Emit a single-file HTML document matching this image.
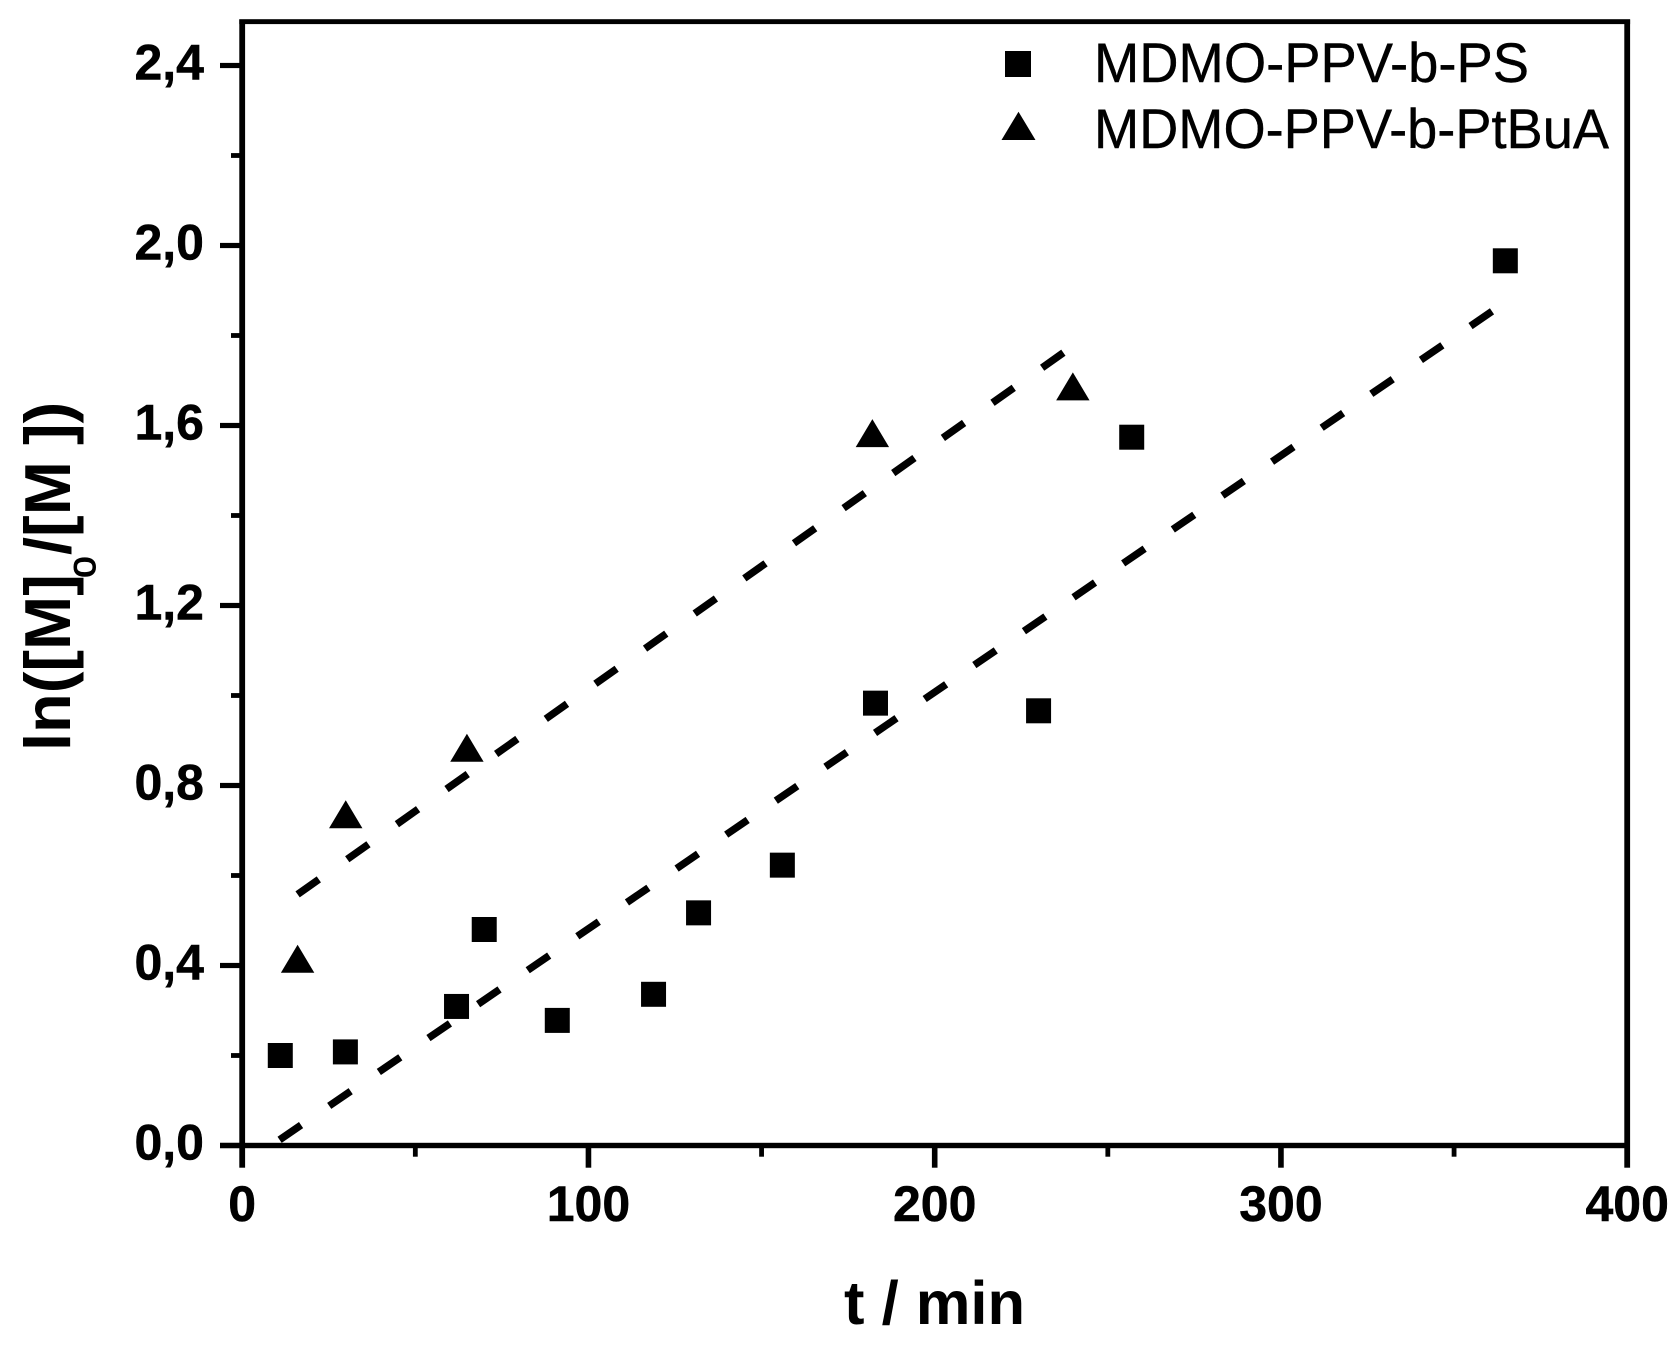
<!DOCTYPE html>
<html lang="en">
<head>
<meta charset="utf-8">
<title>Kinetics plot</title>
<style>
html,body{margin:0;padding:0;background:#fff;}
svg{display:block;}
text{font-family:"Liberation Sans",sans-serif;fill:#000;}
.tick-label{font-weight:700;font-size:50px;stroke:#000;stroke-width:0.5px;}
.title{font-weight:700;}
</style>
</head>
<body>
<svg id="chart" xmlns="http://www.w3.org/2000/svg" width="1679" height="1346" viewBox="0 0 1679 1346">
<rect x="0" y="0" width="1679" height="1346" fill="#fff"/>
<g id="series"></g>
<g id="axes"></g>
<text class="title" x="844" y="1324" font-size="61.5">t / min</text>
<g class="title">
  <text class="title" font-size="65" transform="translate(70 751) rotate(-90)">ln([M]</text>
  <text font-size="39" font-weight="400" stroke="#000" stroke-width="1" text-anchor="middle" transform="translate(95 567) rotate(-90)">o</text>
  <text class="title" font-size="65" transform="translate(70 555) rotate(-90)">/[M</text>
  <text class="title" font-size="65" transform="translate(70 445) rotate(-90)">])</text>
</g>
<g>
  <rect x="1005" y="51" width="26" height="26" fill="#000"/>
  <text x="1094" y="82" font-size="56" stroke="#000" stroke-width="0.4" textLength="435" lengthAdjust="spacingAndGlyphs">MDMO-PPV-b-PS</text>
  <polygon points="1018.5,111.7 1035.5,140 1001.5,140" fill="#000"/>
  <text x="1094" y="148" font-size="56" stroke="#000" stroke-width="0.4" textLength="515" lengthAdjust="spacingAndGlyphs">MDMO-PPV-b-PtBuA</text>
</g>
</svg>
<script>
const xMajorTicks = [0, 100, 200, 300, 400];
const xMinorTicks = [50, 150, 250, 350];
const xTickLabels = ["0", "100", "200", "300", "400"];
const yMajorTicks = [0, 0.4, 0.8, 1.2, 1.6, 2.0, 2.4];
const yMinorTicks = [0.2, 0.6, 1.0, 1.4, 1.8, 2.2];
const yTickLabels = ["0,0", "0,4", "0,8", "1,2", "1,6", "2,0", "2,4"];
const psTimes = [11, 29.8, 61.9, 69.9, 91, 118.8, 131.8, 156, 182.9, 230, 256.9, 364.8];
const psValues = [0.2, 0.208, 0.309, 0.48, 0.278, 0.336, 0.517, 0.623, 0.983, 0.966, 1.574, 1.966];
const ptbuaTimes = [16, 29.9, 64.9, 182, 239.9];
const ptbuaValues = [0.415, 0.736, 0.884, 1.583, 1.687];
const psFitTimes = [10.8, 361.4];
const psFitValues = [0.0127, 1.856];
const ptbuaFitTimes = [16, 237.2];
const ptbuaFitValues = [0.558, 1.762];

const NS = 'http://www.w3.org/2000/svg';
const xDomain = [0, 400];
const yDomain = [0, 2.5];
const plotLeft = 242.2, plotRight = 1627.2, plotBottom = 1145.5, plotTop = 20.5;
function xScale(v) { return plotLeft + (v - xDomain[0]) / (xDomain[1] - xDomain[0]) * (plotRight - plotLeft); }
function yScale(v) { return plotBottom - (v - yDomain[0]) / (yDomain[1] - yDomain[0]) * (plotBottom - plotTop); }
function make(tag, attrs) {
  const el = document.createElementNS(NS, tag);
  for (const k in attrs) el.setAttribute(k, attrs[k]);
  return el;
}
const axes = document.getElementById('axes');
const series = document.getElementById('series');

function axisRect(x, y, w, h) {
  return make('rect', { x: x, y: y, width: w, height: h, fill: '#000' });
}

let el;
el = axisRect(plotLeft - 2.9, 19.5, 5.8, 1167.7 - 19.5);


axes.appendChild(el);
el = axisRect(plotRight - 2.9, 19.5, 5.8, 1167.7 - 19.5);


axes.appendChild(el);
el = axisRect(plotLeft - 2.9, 19.2, plotRight - plotLeft + 5.8, 4.9);


axes.appendChild(el);
el = axisRect(220, plotBottom - 2.7, plotRight - 220, 5.4);


axes.appendChild(el);

yMajorTicks.forEach(function (v, i) {
  const y = yScale(v);
  const tick = axisRect(220, y - 2.6, 20, 5.2);
  
  
  axes.appendChild(tick);
  const label = make('text', { x: 204, y: y + 14, 'text-anchor': 'end', class: 'tick-label' });
  label.textContent = yTickLabels[i];
  
  
  axes.appendChild(label);
});
yMinorTicks.forEach(function (v) {
  const tick = axisRect(231, yScale(v) - 2.4, 9, 4.8);
  
  
  axes.appendChild(tick);
});
xMajorTicks.forEach(function (v, i) {
  const x = xScale(v);
  if (i > 0 && i < xMajorTicks.length - 1) {
    const tick = axisRect(x - 2.8, plotBottom, 5.6, 22.2);
    
    
    axes.appendChild(tick);
  }
  const label = make('text', { x: x, y: 1221, 'text-anchor': 'middle', class: 'tick-label' });
  label.textContent = xTickLabels[i];
  
  
  axes.appendChild(label);
});
xMinorTicks.forEach(function (v) {
  const tick = axisRect(xScale(v) - 2.4, plotBottom, 4.8, 11.2);
  
  
  axes.appendChild(tick);
});

function fitLine(times, values, gap) {
  const pts = times.map(function (t, i) { return xScale(t) + ',' + yScale(values[i]); }).join(' ');
  return make('polyline', {
    points: pts,
    fill: 'none',
    stroke: '#000',
    'stroke-width': 7.4,
    'stroke-dasharray': '26 ' + gap
  });
}
const psFit = fitLine(psFitTimes, psFitValues, 34.1);


series.appendChild(psFit);
const ptbuaFit = fitLine(ptbuaFitTimes, ptbuaFitValues, 34.8);


series.appendChild(ptbuaFit);

psTimes.forEach(function (t, i) {
  const size = 25;
  const sq = make('rect', {
    x: xScale(t) - size / 2,
    y: yScale(psValues[i]) - size / 2,
    width: size,
    height: size,
    fill: '#000'
  });
  
  
  series.appendChild(sq);
});
ptbuaTimes.forEach(function (t, i) {
  const cx = xScale(t), cy = yScale(ptbuaValues[i]);
  const tri = make('polygon', {
    points: cx + ',' + (cy - 14) + ' ' + (cx + 16.7) + ',' + (cy + 14) + ' ' + (cx - 16.7) + ',' + (cy + 14),
    fill: '#000'
  });
  
  
  series.appendChild(tri);
});
</script>
</body>
</html>
